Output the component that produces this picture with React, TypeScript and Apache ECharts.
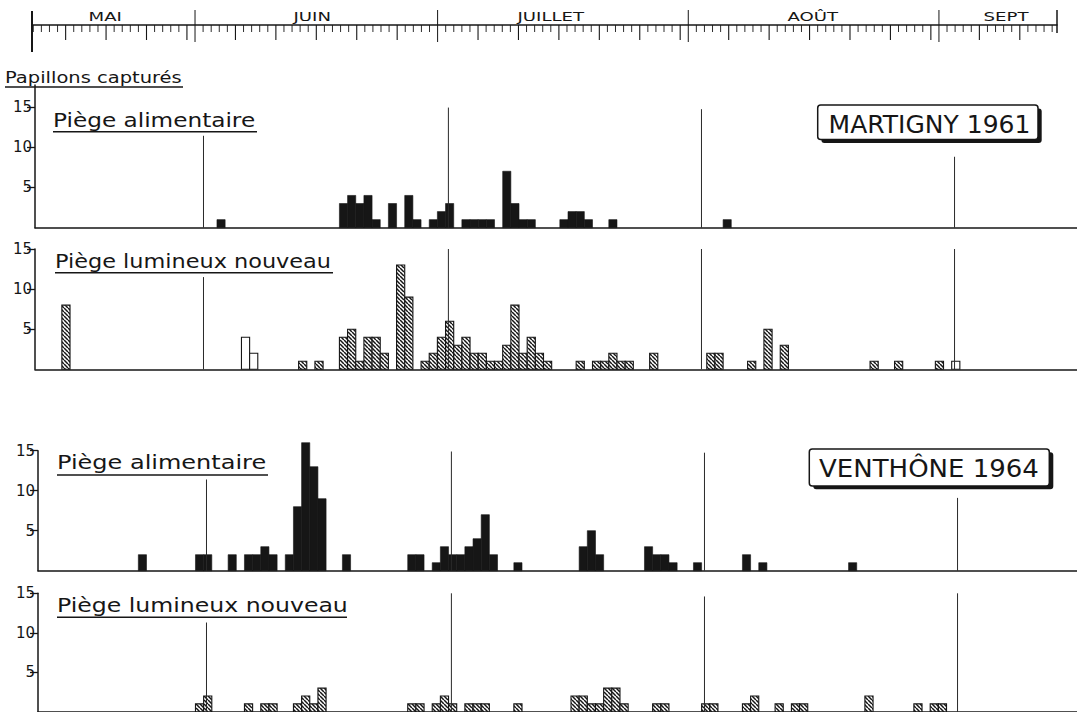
import React, { useEffect, useRef } from 'react';
import * as echarts from 'echarts';

// ---------- DATA (day offsets counted from 1 June: 1 July = 30, 1 Aug = 61, 1 Sept = 92) ----------
const martignyFoodDays = [2, 17, 18, 19, 20, 21, 23, 25, 26, 28, 29, 30, 32, 33, 34, 35, 37, 38, 39, 40, 44, 45, 46, 47, 50, 64];
const martignyFoodCounts = [1, 3, 4, 3, 4, 1, 3, 4, 1, 1, 2, 3, 1, 1, 1, 1, 7, 3, 1, 1, 1, 2, 2, 1, 1, 1];

const martignyLightDays = [-17, 12, 14, 17, 18, 19, 20, 21, 22, 24, 25, 27, 28, 29, 30, 31, 32, 33, 34, 35, 36, 37, 38, 39, 40, 41, 42, 46, 48, 49, 50, 51, 52, 55, 62, 63, 67, 69, 71, 82, 85, 90];
const martignyLightCounts = [8, 1, 1, 4, 5, 1, 4, 4, 2, 13, 9, 1, 2, 4, 6, 3, 4, 2, 2, 1, 1, 3, 8, 2, 4, 2, 1, 1, 1, 1, 2, 1, 1, 2, 2, 2, 1, 5, 3, 1, 1, 1];
const martignyLightOpenDays = [5, 6, 92];
const martignyLightOpenCounts = [4, 2, 1];

const venthoneFoodDays = [-8, -1, 0, 3, 5, 6, 7, 8, 10, 11, 12, 13, 14, 17, 25, 26, 28, 29, 30, 31, 32, 33, 34, 35, 38, 46, 47, 48, 54, 55, 56, 57, 60, 66, 68, 79];
const venthoneFoodCounts = [2, 2, 2, 2, 2, 2, 3, 2, 2, 8, 16, 13, 9, 2, 2, 2, 1, 3, 2, 2, 3, 4, 7, 2, 1, 3, 5, 2, 3, 2, 2, 1, 1, 2, 1, 1];

const venthoneLightDays = [-1, 0, 5, 7, 8, 11, 12, 13, 14, 25, 26, 28, 29, 30, 32, 33, 34, 38, 45, 46, 47, 48, 49, 50, 51, 55, 56, 61, 62, 66, 67, 70, 72, 73, 81, 87, 89, 90];
const venthoneLightCounts = [1, 2, 1, 1, 1, 1, 2, 1, 3, 1, 1, 1, 2, 1, 1, 1, 1, 1, 2, 2, 1, 1, 3, 3, 1, 1, 1, 1, 1, 1, 2, 1, 1, 1, 2, 1, 1, 1];

const monthNames = ['MAI', 'JUIN', 'JUILLET', 'AOÛT', 'SEPT'];
const monthStarts = [-31, 0, 30, 61, 92];
const monthLengths = [31, 30, 31, 31, 30];
const monthLabelDays = [-11.1, 14.5, 44, 76.4, 100.3];
const monthLineDays = [0, 30, 61, 92];
const yTickValues = [5, 10, 15];

const yAxisTitle = 'Papillons capturés';
const panelTitles = ['Piège alimentaire', 'Piège lumineux nouveau', 'Piège alimentaire', 'Piège lumineux nouveau'];
const siteLabels = ['MARTIGNY 1961', 'VENTHÔNE 1964'];

// ---------- LAYOUT / STYLE ----------
const INK = '#161616';
const FONT = '"DejaVu Sans", "Liberation Sans", sans-serif';
const TOP_MIN = -20.16;
const TOP_MAX = 106.6;
const X_MIN = -20.64;
const X_MAX = 107.0;
const PANEL_WIDTH = 1042;
const BAR_LEFT = 0.35;
const BAR_RIGHT = 0.65;

const panels = [
  { left: 35, top: 85, height: 142.7, max: 17.7, lineTops: [11.4, 14.9, 14.7, 8.8] },
  { left: 35, top: 249, height: 120.3, max: 15, lineTops: [11.5, 15, 15, 15] },
  { left: 38, top: 450.7, height: 120, max: 15, lineTops: [11.4, 14.9, 14.75, 9.1] },
  { left: 38, top: 593.3, height: 118.5, max: 15, lineTops: [11.3, 15, 14.6, 15] },
];

// [up, down, width] for minor, major, month boundary, left end, right end
const tickSpec = [
  [0, 7, 0.9],
  [0, 15, 1.1],
  [15, 17, 1],
  [14, 27, 2],
  [15, 8, 1.5],
];

function makeHatch() {
  const c = document.createElement('canvas');
  c.width = 4;
  c.height = 4;
  const ctx = c.getContext('2d')!;
  ctx.fillStyle = '#ffffff';
  ctx.fillRect(0, 0, 4, 4);
  ctx.strokeStyle = INK;
  ctx.lineWidth = 1.5;
  for (const o of [-4, 0, 4]) {
    ctx.beginPath();
    ctx.moveTo(o, 0);
    ctx.lineTo(o + 4, 4);
    ctx.stroke();
  }
  return c;
}

function buildDayTicks() {
  const ticks: number[][] = [];
  monthStarts.forEach((s, m) => {
    for (let d = 0; d < monthLengths[m]; d++) {
      const off = s + d;
      if (off < TOP_MIN || off > TOP_MAX) continue;
      ticks.push([off, d === 0 ? 2 : d % 5 === 0 ? 1 : 0]);
    }
  });
  ticks.push([TOP_MIN, 3]);
  ticks.push([TOP_MAX, 4]);
  return ticks;
}

function barsSeries(idx: number, days: number[], counts: number[], style: any) {
  return {
    type: 'custom',
    xAxisIndex: idx,
    yAxisIndex: idx,
    z: 2,
    data: days.map((d, i) => [d, counts[i]]),
    renderItem: (_p: any, api: any) => {
      const d = api.value(0);
      const v = api.value(1);
      const a = api.coord([d - BAR_LEFT, v]);
      const b = api.coord([d + BAR_RIGHT, 0]);
      return {
        type: 'rect',
        shape: { x: a[0], y: a[1], width: b[0] - a[0], height: b[1] - a[1] },
        style,
      };
    },
  };
}

function monthLinesSeries(idx: number, tops: number[]) {
  return {
    type: 'custom',
    xAxisIndex: idx,
    yAxisIndex: idx,
    z: 3,
    data: monthLineDays.map((d, i) => [d, tops[i]]),
    renderItem: (_p: any, api: any) => {
      const a = api.coord([api.value(0), 0]);
      const b = api.coord([api.value(0), api.value(1)]);
      return {
        type: 'line',
        shape: { x1: a[0], y1: a[1], x2: b[0], y2: b[1] },
        style: { stroke: '#2a2a2a', lineWidth: 1 },
      };
    },
  };
}

function textEl(text: string, x: number, y: number, size: number, scaleX: number, align = 'left') {
  return {
    type: 'text',
    x,
    y,
    scaleX,
    style: { text, font: `${size}px ${FONT}`, fill: INK, align, verticalAlign: 'middle' },
  };
}

function lineEl(x1: number, y1: number, x2: number, y2: number, w = 1.4) {
  return { type: 'line', shape: { x1, y1, x2, y2 }, style: { stroke: INK, lineWidth: w } };
}

function boxEl(x: number, y: number, w: number, h: number, dx: number, dy: number) {
  return [
    { type: 'rect', shape: { x: x + dx, y: y + dy, width: w, height: h, r: 3 }, style: { fill: INK } },
    { type: 'rect', shape: { x, y, width: w, height: h, r: 3 }, style: { fill: '#ffffff', stroke: INK, lineWidth: 1.5 } },
  ];
}

function buildOption() {
  const hatch = { image: makeHatch(), repeat: 'repeat', imageWidth: 4, imageHeight: 4 };
  const solid = { fill: INK, stroke: INK, lineWidth: 0.6 };
  const hatched = { fill: hatch, stroke: INK, lineWidth: 1.1 };
  const open = { fill: '#ffffff', stroke: INK, lineWidth: 1.1 };

  const grid: any[] = [{ left: 32, top: 0, width: 1025, height: 25, outerBoundsMode: 'none' }];
  const xAxis: any[] = [
    {
      type: 'value',
      gridIndex: 0,
      min: TOP_MIN,
      max: TOP_MAX,
      axisLine: { show: true, onZero: false, lineStyle: { color: INK, width: 1.5 } },
      axisTick: { show: false },
      axisLabel: { show: false },
      splitLine: { show: false },
    },
  ];
  const yAxis: any[] = [{ type: 'value', gridIndex: 0, min: 0, max: 1, show: false }];

  panels.forEach((p, i) => {
    const gi = i + 1;
    grid.push({ left: p.left, top: p.top, width: PANEL_WIDTH, height: p.height, outerBoundsMode: 'none' });
    xAxis.push({
      type: 'value',
      gridIndex: gi,
      min: X_MIN,
      max: X_MAX,
      axisLine: { show: true, onZero: false, lineStyle: { color: INK, width: 1.5 } },
      axisTick: { show: false },
      axisLabel: { show: false },
      splitLine: { show: false },
    });
    yAxis.push({
      type: 'value',
      gridIndex: gi,
      min: 0,
      max: p.max,
      axisLine: { show: true, onZero: false, lineStyle: { color: INK, width: 1.5 } },
      axisTick: { show: true, length: 8, customValues: yTickValues, lineStyle: { color: INK, width: 1.3 } },
      axisLabel: { show: true, customValues: yTickValues, margin: 3, fontSize: 15, fontFamily: FONT, color: INK },
      splitLine: { show: false },
    });
  });

  const series: any[] = [
    {
      type: 'custom',
      xAxisIndex: 0,
      yAxisIndex: 0,
      data: buildDayTicks(),
      renderItem: (_p: any, api: any) => {
        const pt = api.coord([api.value(0), 0]);
        const s = tickSpec[api.value(1)];
        return {
          type: 'line',
          shape: { x1: pt[0], y1: pt[1] - s[0], x2: pt[0], y2: pt[1] + s[1] },
          style: { stroke: INK, lineWidth: s[2] },
        };
      },
    },
    {
      type: 'custom',
      xAxisIndex: 0,
      yAxisIndex: 0,
      data: monthLabelDays.map((d, i) => [d, i]),
      renderItem: (_p: any, api: any) => {
        const pt = api.coord([api.value(0), 0]);
        return {
          type: 'text',
          x: pt[0],
          y: pt[1] - 8,
          scaleX: 1.45,
          style: {
            text: monthNames[api.value(1)],
            font: `12.5px ${FONT}`,
            fill: INK,
            align: 'center',
            verticalAlign: 'middle',
          },
        };
      },
    },
    barsSeries(1, martignyFoodDays, martignyFoodCounts, solid),
    barsSeries(2, martignyLightDays, martignyLightCounts, hatched),
    barsSeries(2, martignyLightOpenDays, martignyLightOpenCounts, open),
    barsSeries(3, venthoneFoodDays, venthoneFoodCounts, solid),
    barsSeries(4, venthoneLightDays, venthoneLightCounts, hatched),
  ];
  panels.forEach((p, i) => series.push(monthLinesSeries(i + 1, p.lineTops)));

  const graphic: any[] = [
    textEl(yAxisTitle, 5, 77.5, 15, 1.3),
    lineEl(5, 87, 183, 87),
    textEl(panelTitles[0], 53, 120, 20, 1.16),
    lineEl(53, 131.7, 257, 131.7),
    textEl(panelTitles[1], 55, 261.4, 20, 1.12),
    lineEl(55, 272.7, 333, 272.7),
    textEl(panelTitles[2], 57, 461.4, 20, 1.2),
    lineEl(57, 475, 268, 475),
    textEl(panelTitles[3], 57, 604.8, 20, 1.18),
    lineEl(57, 617.3, 347, 617.3),
    ...boxEl(817.7, 105, 220.3, 34.5, 3.7, 3.5),
    textEl(siteLabels[0], 929.5, 124.5, 25, 1, 'center'),
    ...boxEl(809.3, 449, 240, 37, 4, 3.3),
    textEl(siteLabels[1], 929, 468.5, 25, 1.04, 'center'),
  ].map((g) => ({ ...g, z: 10 }));

  return {
    animation: false,
    backgroundColor: '#ffffff',
    grid,
    xAxis,
    yAxis,
    series,
    graphic,
  };
}

export default function App() {
  const ref = useRef<HTMLDivElement>(null);
  useEffect(() => {
    document.body.style.margin = '0';
    const chart = echarts.init(ref.current!, null, { renderer: 'svg' });
    chart.setOption(buildOption() as any);
    return () => chart.dispose();
  }, []);
  return <div ref={ref} style={{ width: 1077, height: 712, background: '#fff' }} />;
}
